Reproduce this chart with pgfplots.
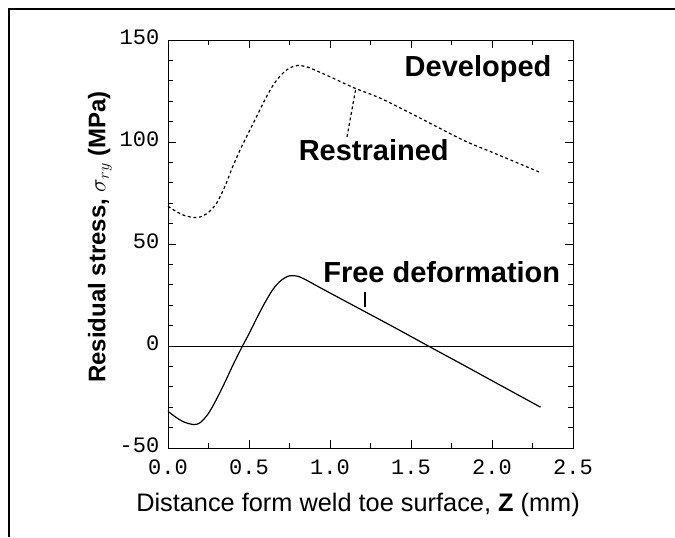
\documentclass[border=0pt]{standalone}
\usepackage{fontspec}
\setmainfont{Liberation Sans}
\newfontfamily\tickfont{Liberation Mono}
\usepackage{pgfplots}
\pgfplotsset{compat=1.18}
\begin{document}
\begin{tikzpicture}[x=0.75pt,y=0.75pt]
\useasboundingbox (0,0) rectangle (675,-537);
\draw[line width=1.5pt] (9,-537) -- (9,-8.5) -- (675,-8.5);
\begin{axis}[
  at={(126pt,-336pt)}, anchor=south west,
  scale only axis, width=303.75pt, height=306pt,
  xmin=0, xmax=2.5, ymin=-50, ymax=150,
  xtick={0,0.5,1,1.5,2,2.5}, ytick={-50,0,50,100,150},
  minor x tick num=1, minor y tick num=4,
  tick align=inside, major tick length=6pt, minor tick length=3.5pt,
  axis line style={line width=0.7pt}, tick style={line width=0.6pt, black},
  /pgf/number format/assume math mode=true,
  typeset ticklabels with strut,
  ticklabel style={font=\tickfont\fontsize{16.5}{18}\selectfont},
  xticklabel style={/pgf/number format/.cd, fixed, fixed zerofill, precision=1},
  yticklabel style={/pgf/number format/.cd, fixed, precision=0},
  xticklabel shift=4pt, yticklabel shift=3pt,
  clip=false,
]
\addplot[black, line width=0.7pt] coordinates {(0,0) (2.5,0)};
% Free deformation
\addplot[black, line width=0.9pt, smooth, tension=0.5] coordinates {
(0,-32) (0.05,-35) (0.1,-37.3) (0.16,-38.5) (0.2,-37.5) (0.25,-33) (0.3,-26) (0.35,-18) (0.4,-9.5) (0.45,-1.5) (0.5,6) (0.55,14) (0.6,21.5) (0.65,28) (0.7,32.3) (0.75,34.4) (0.8,34.2) (0.85,32.5) (0.9,30.3) (1.0,26) (1.2,17.5) (1.4,9) (1.63,-1) (1.8,-8.3) (2.0,-17) (2.3,-30)};
% Restrained
\addplot[black, line width=0.9pt, dash pattern=on 2.2pt off 2pt, smooth, tension=0.5] coordinates {
(0,68.5) (0.05,66) (0.1,64) (0.16,63) (0.2,63.3) (0.25,65.5) (0.3,70) (0.35,78) (0.4,88) (0.45,97) (0.5,105) (0.55,113) (0.6,121) (0.65,128) (0.7,133) (0.75,136.3) (0.8,137.5) (0.85,137) (0.9,135.5) (1.0,132) (1.15,126.5) (1.31,121.5) (1.5,114) (1.82,101) (2.0,95) (2.3,85)};
% leaders
\addplot[black, line width=0.9pt, dash pattern=on 2.2pt off 2pt] coordinates {(1.105,102.5) (1.16,126.5)};
\addplot[black, line width=0.8pt] coordinates {(1.216,26.5) (1.216,19)};
\node[font=\bfseries\fontsize{21.75}{24}\selectfont] at (axis cs:1.914,135.8) {Developed};
\node[font=\bfseries\fontsize{21.75}{24}\selectfont] at (axis cs:1.27,96) {Restrained};
\node[font=\bfseries\fontsize{21.75}{24}\selectfont] at (axis cs:1.69,36.3) {Free deformation};
\end{axis}
\node[font=\fontsize{19}{22}\selectfont] at (358,-505) {Distance form weld toe surface, \textbf{Z} (mm)};
\node[rotate=90, font=\bfseries\fontsize{18}{21}\selectfont] at (100,-237) {Residual stress, $\sigma_{ry}$ (MPa)};
\end{tikzpicture}
\end{document}
